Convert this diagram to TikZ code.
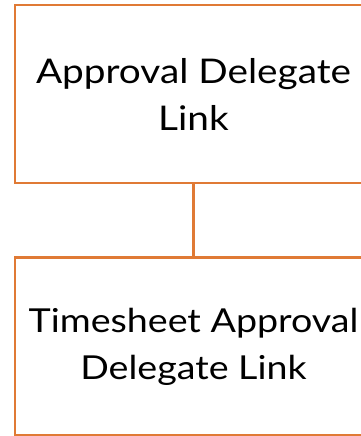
\documentclass[tikz,border=0pt]{standalone}
\usepackage{fontspec}
\setmainfont{Lato}[FakeStretch=1.14]
\definecolor{boxorange}{HTML}{E07A35}
\begin{document}
\begin{tikzpicture}[x=1pt,y=-1pt,
  box/.style={draw=boxorange,line width=2.7pt,minimum width=357pt,minimum height=178pt,
    inner sep=0pt,align=center,font=\fontsize{34}{47}\selectfont,text=black},
  link/.style={draw=boxorange,line width=2.7pt}]
\useasboundingbox (0,0) rectangle (360,436);
\node[box] (a) at (193.5,94) {Approval Delegate\\Link};
\node[box,font=\fontsize{33}{47}\selectfont] (b) at (193.5,346.5) {Timesheet Approval\\Delegate Link};
\draw[link] (a.south) -- (b.north);
\end{tikzpicture}
\end{document}
